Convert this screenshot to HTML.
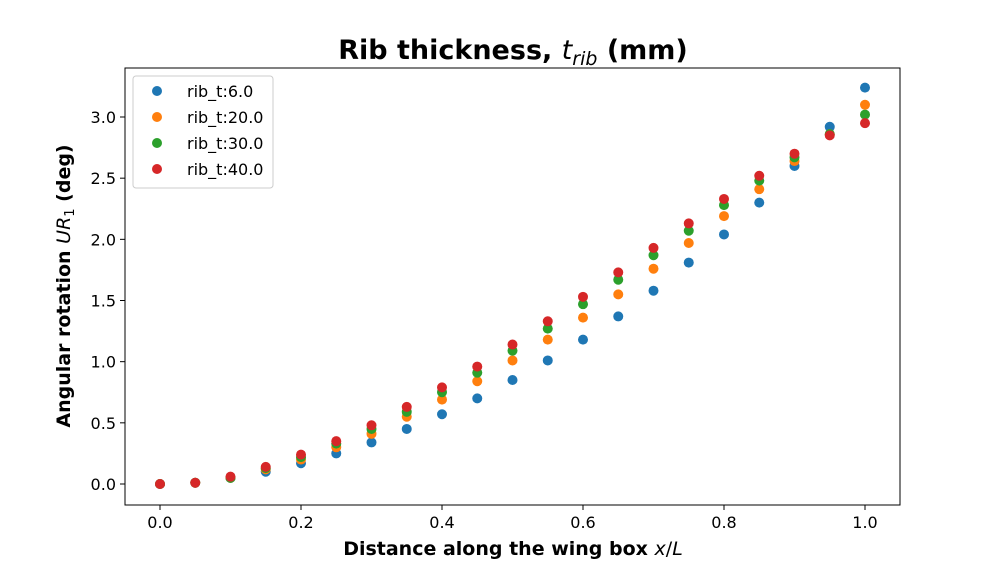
<!DOCTYPE html>
<html><head><meta charset="utf-8">
<style>
html,body{margin:0;padding:0;background:#fff;}
svg{display:block;font-family:"DejaVu Sans","Liberation Sans",sans-serif;}
</style></head>
<body>
<svg id="chart" width="1000" height="566" viewBox="0 0 1000 566" xmlns="http://www.w3.org/2000/svg">
<rect x="0" y="0" width="1000" height="566" fill="#fff"/>
<text x="513" y="59" text-anchor="middle" font-size="27" font-weight="bold">Rib thickness, <tspan font-style="italic" font-weight="normal">t</tspan><tspan font-style="italic" font-weight="normal" font-size="19" dy="6">rib</tspan><tspan dy="-6"> (mm)</tspan></text>
<g id="ticks"></g>
<g id="marks"></g>
<rect x="125" y="68" width="775" height="437" fill="none" stroke="#000" stroke-width="1"/>
<text x="513" y="555" text-anchor="middle" font-size="19" font-weight="bold">Distance along the wing box <tspan font-style="italic" font-weight="normal">x</tspan><tspan font-weight="normal">/</tspan><tspan font-style="italic" font-weight="normal">L</tspan></text>
<text transform="translate(70,286) rotate(-90)" text-anchor="middle" font-size="19" font-weight="bold">Angular rotation <tspan font-style="italic" font-weight="normal">UR</tspan><tspan font-weight="normal" font-size="13" dy="4">1</tspan><tspan dy="-4"> (deg)</tspan></text>
<g id="legend">
<rect x="133" y="76" width="140" height="112" rx="3" fill="#fff" stroke="#ccc"/>
</g>
</svg>
<script>
const xs = [0,0.05,0.1,0.15,0.2,0.25,0.3,0.35,0.4,0.45,0.5,0.55,0.6,0.65,0.7,0.75,0.8,0.85,0.9,0.95,1.0];
const rib6 = [0,0.01,0.05,0.10,0.17,0.25,0.34,0.45,0.57,0.70,0.85,1.01,1.18,1.37,1.58,1.81,2.04,2.30,2.60,2.92,3.24];
const rib20 = [0,0.01,0.05,0.12,0.20,0.30,0.41,0.55,0.69,0.84,1.01,1.18,1.36,1.55,1.76,1.97,2.19,2.41,2.64,2.86,3.10];
const rib30 = [0,0.01,0.05,0.13,0.22,0.33,0.45,0.59,0.75,0.91,1.09,1.27,1.47,1.67,1.87,2.07,2.28,2.48,2.67,2.86,3.02];
const rib40 = [0,0.01,0.06,0.14,0.24,0.35,0.48,0.63,0.79,0.96,1.14,1.33,1.53,1.73,1.93,2.13,2.33,2.52,2.70,2.85,2.95];
const seriesNames = ["rib_t:6.0","rib_t:20.0","rib_t:30.0","rib_t:40.0"];
const xTicks = [0,0.2,0.4,0.6,0.8,1.0];
const yTicks = [0,0.5,1.0,1.5,2.0,2.5,3.0];
const colors = ["#1f77b4","#ff7f0e","#2ca02c","#d62728"];
const NS = "http://www.w3.org/2000/svg";
function xPx(v){return 160 + v*705;}
function yPx(v){return 484 - v*122.33;}
function mk(tag, attrs, parent){const e=document.createElementNS(NS,tag);for(const k in attrs)e.setAttribute(k,attrs[k]);parent.appendChild(e);return e;}
const ticks=document.getElementById('ticks');
xTicks.forEach(t=>{
  const l=mk('line',{x1:xPx(t),x2:xPx(t),y1:505,y2:510,stroke:'#000'},ticks);
  
  
  const tx=mk('text',{x:xPx(t),y:528,'text-anchor':'middle','font-size':16},ticks);
  tx.textContent=t.toFixed(1);
  
  
});
yTicks.forEach(t=>{
  const l=mk('line',{x1:120,x2:125,y1:yPx(t),y2:yPx(t),stroke:'#000'},ticks);
  
  
  const tx=mk('text',{x:116,y:yPx(t)+6,'text-anchor':'end','font-size':16},ticks);
  tx.textContent=t.toFixed(1);
  
  
});
const marks=document.getElementById('marks');
[rib6,rib20,rib30,rib40].forEach((s,si)=>{
  const g=mk('g',{},marks);
  
  
  s.forEach((v,i)=>{
    const c=mk('circle',{cx:xPx(xs[i]),cy:yPx(v),r:5,fill:colors[si]},g);
    
    
  });
});
const leg=document.getElementById('legend');
seriesNames.forEach((n,i)=>{
  const y=91+i*26;
  const c=mk('circle',{cx:157,cy:y,r:5,fill:colors[i]},leg);
  
  
  const t=mk('text',{x:187,y:y+6,'font-size':16},leg);
  t.textContent=n;
  
  
});
</script>
</body></html>
